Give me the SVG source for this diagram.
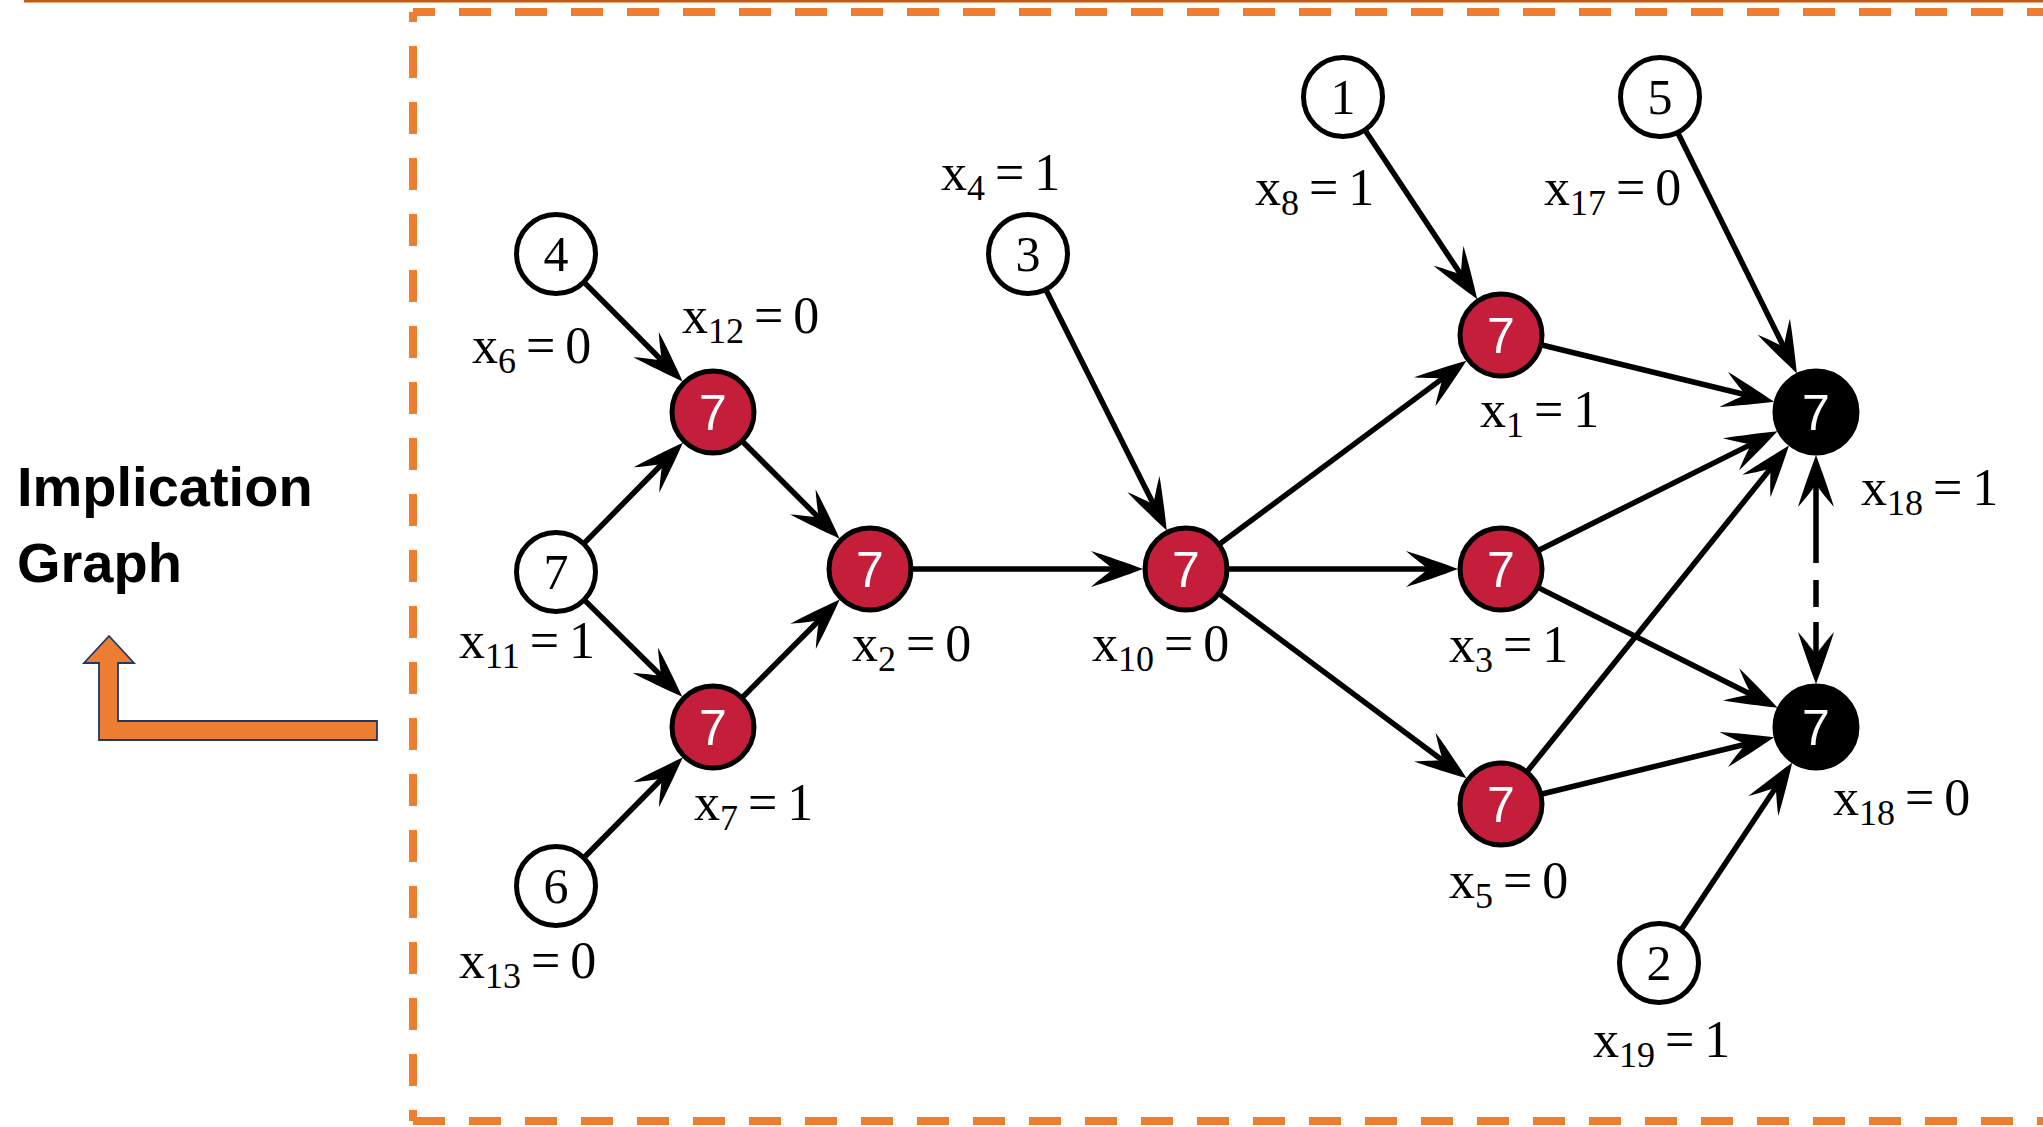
<svg xmlns="http://www.w3.org/2000/svg" width="2043" height="1127" viewBox="0 0 2043 1127">
<style>
.lbl{font-family:"Liberation Serif","Times New Roman",serif;font-size:52px;fill:#000}
.sub{font-size:36px}
.edge{stroke:#000;stroke-width:5.5;fill:none;marker-end:url(#ah)}
.wn{fill:#fff;stroke:#000;stroke-width:5}
.rn{fill:#c41e3a;stroke:#000;stroke-width:5}
.bn{fill:#000;stroke:#000;stroke-width:5}
.wt{font-family:"Liberation Serif","Times New Roman",serif;font-size:50px;fill:#000;text-anchor:middle}
.ct{font-family:"Liberation Sans",Arial,sans-serif;font-size:50px;fill:#fff;text-anchor:middle}
.frame{stroke:#ed7d31;stroke-width:8;fill:none;stroke-dasharray:32 24}
</style>
<defs>
<marker id="ah" viewBox="-54 -20 56 40" refX="-20" refY="0" markerWidth="56" markerHeight="40" markerUnits="userSpaceOnUse" orient="auto-start-reverse">
<path d="M0,0 C-16,-6 -36,-13 -52,-18 C-42,-9 -33,-3 -30,0 C-33,3 -42,9 -52,18 C-36,13 -16,6 0,0 Z" fill="#000"/>
</marker>
</defs>
<rect x="0" y="0" width="2043" height="1127" fill="#fff"/>
<rect x="24" y="0" width="2019" height="2.5" fill="#c55a11"/>
<g id="frame">
<path class="frame" d="M413,12 L2060,12" stroke-dashoffset="10"/>
<path class="frame" d="M413,12 L413,1121" stroke-dashoffset="22"/>
<path class="frame" d="M413,1121 L2060,1121"/>
</g>
<g id="title">
<text x="17" y="506" font-family="'Liberation Sans',Arial,sans-serif" font-weight="bold" font-size="56" fill="#000">Implication</text>
<text x="17" y="582" font-family="'Liberation Sans',Arial,sans-serif" font-weight="bold" font-size="56" fill="#000">Graph</text>
<polygon points="109,636 134,663 118,663 118,721 377,721 377,740 99,740 99,663 84,663" fill="#ed7d31" stroke="#203864" stroke-width="1.8"/>
</g>
<g id="connectors">
<path class="edge" d="M584.2,282.4 L668.6,367.3"/>
<path class="edge" d="M584,543.4 L668.9,457"/>
<path class="edge" d="M584.5,600.1 L668.1,682.7"/>
<path class="edge" d="M584.1,857.5 L668.7,771.8"/>
<path class="edge" d="M741.3,440.3 L825.5,524.5"/>
<path class="edge" d="M741.2,698.6 L825.6,613.7"/>
<path class="edge" d="M910,569 L1123,569"/>
<path class="edge" d="M1045.9,289.8 L1157.8,512.7"/>
<path class="edge" d="M1218.1,545.1 L1450.4,372.6"/>
<path class="edge" d="M1226,569 L1438,569"/>
<path class="edge" d="M1218.1,592.9 L1450.5,766.3"/>
<path class="edge" d="M1365.1,130.3 L1466.2,282.5"/>
<path class="edge" d="M1539.9,344.5 L1754.8,397"/>
<path class="edge" d="M1536.8,551.2 L1759.6,440.1"/>
<path class="edge" d="M1526.1,772.8 L1776.5,461.1"/>
<path class="edge" d="M1677.8,132.8 L1788,355.5"/>
<path class="edge" d="M1536.8,586.9 L1759.7,698.8"/>
<path class="edge" d="M1539.9,794.5 L1754.8,742"/>
<path class="edge" d="M1681.2,929.7 L1781.1,779.4"/>
<path d="M1816,475 L1816,664" stroke="#000" stroke-width="5.5" fill="none" stroke-dasharray="88 17 27 15 60" marker-start="url(#ah)" marker-end="url(#ah)"/>
</g>
<g id="n4"><circle class="wn" cx="556" cy="254" r="39.5"/><text class="wt" x="556" y="271">4</text></g>
<g id="x12"><circle class="rn" cx="713" cy="412" r="41"/><text class="ct" x="713" y="430">7</text></g>
<g id="n7"><circle class="wn" cx="556" cy="572" r="39.5"/><text class="wt" x="556" y="589">7</text></g>
<g id="x7"><circle class="rn" cx="713" cy="727" r="41"/><text class="ct" x="713" y="745">7</text></g>
<g id="n6"><circle class="wn" cx="556" cy="886" r="39.5"/><text class="wt" x="556" y="903">6</text></g>
<g id="x2"><circle class="rn" cx="870" cy="569" r="41"/><text class="ct" x="870" y="587">7</text></g>
<g id="n3"><circle class="wn" cx="1028" cy="254" r="39.5"/><text class="wt" x="1028" y="271">3</text></g>
<g id="x10"><circle class="rn" cx="1186" cy="569" r="41"/><text class="ct" x="1186" y="587">7</text></g>
<g id="n1"><circle class="wn" cx="1343" cy="97" r="39.5"/><text class="wt" x="1343" y="114">1</text></g>
<g id="x1"><circle class="rn" cx="1501" cy="335" r="41"/><text class="ct" x="1501" y="353">7</text></g>
<g id="x3"><circle class="rn" cx="1501" cy="569" r="41"/><text class="ct" x="1501" y="587">7</text></g>
<g id="x5"><circle class="rn" cx="1501" cy="804" r="41"/><text class="ct" x="1501" y="822">7</text></g>
<g id="n5"><circle class="wn" cx="1660" cy="97" r="39.5"/><text class="wt" x="1660" y="114">5</text></g>
<g id="x18a"><circle class="bn" cx="1816" cy="412" r="41"/><text class="ct" x="1816" y="430">7</text></g>
<g id="x18b"><circle class="bn" cx="1816" cy="727" r="41"/><text class="ct" x="1816" y="745">7</text></g>
<g id="n2"><circle class="wn" cx="1659" cy="963" r="39.5"/><text class="wt" x="1659" y="980">2</text></g>
<g id="labels">
<text class="lbl" x="472" y="363">x<tspan class="sub" dy="10">6</tspan><tspan dx="10" dy="-10">=</tspan><tspan dx="10">0</tspan></text>
<text class="lbl" x="682" y="333">x<tspan class="sub" dy="10">12</tspan><tspan dx="10" dy="-10">=</tspan><tspan dx="10">0</tspan></text>
<text class="lbl" x="459" y="658">x<tspan class="sub" dy="10">11</tspan><tspan dx="10" dy="-10">=</tspan><tspan dx="10">1</tspan></text>
<text class="lbl" x="694" y="820">x<tspan class="sub" dy="10">7</tspan><tspan dx="10" dy="-10">=</tspan><tspan dx="10">1</tspan></text>
<text class="lbl" x="459" y="978">x<tspan class="sub" dy="10">13</tspan><tspan dx="10" dy="-10">=</tspan><tspan dx="10">0</tspan></text>
<text class="lbl" x="852" y="661">x<tspan class="sub" dy="10">2</tspan><tspan dx="10" dy="-10">=</tspan><tspan dx="10">0</tspan></text>
<text class="lbl" x="941" y="190">x<tspan class="sub" dy="10">4</tspan><tspan dx="10" dy="-10">=</tspan><tspan dx="10">1</tspan></text>
<text class="lbl" x="1092" y="661">x<tspan class="sub" dy="10">10</tspan><tspan dx="10" dy="-10">=</tspan><tspan dx="10">0</tspan></text>
<text class="lbl" x="1255" y="205">x<tspan class="sub" dy="10">8</tspan><tspan dx="10" dy="-10">=</tspan><tspan dx="10">1</tspan></text>
<text class="lbl" x="1544" y="205">x<tspan class="sub" dy="10">17</tspan><tspan dx="10" dy="-10">=</tspan><tspan dx="10">0</tspan></text>
<text class="lbl" x="1480" y="427">x<tspan class="sub" dy="10">1</tspan><tspan dx="10" dy="-10">=</tspan><tspan dx="10">1</tspan></text>
<text class="lbl" x="1861" y="505">x<tspan class="sub" dy="10">18</tspan><tspan dx="10" dy="-10">=</tspan><tspan dx="10">1</tspan></text>
<text class="lbl" x="1449" y="662">x<tspan class="sub" dy="10">3</tspan><tspan dx="10" dy="-10">=</tspan><tspan dx="10">1</tspan></text>
<text class="lbl" x="1449" y="898">x<tspan class="sub" dy="10">5</tspan><tspan dx="10" dy="-10">=</tspan><tspan dx="10">0</tspan></text>
<text class="lbl" x="1833" y="815">x<tspan class="sub" dy="10">18</tspan><tspan dx="10" dy="-10">=</tspan><tspan dx="10">0</tspan></text>
<text class="lbl" x="1593" y="1057">x<tspan class="sub" dy="10">19</tspan><tspan dx="10" dy="-10">=</tspan><tspan dx="10">1</tspan></text>
</g>
</svg>
